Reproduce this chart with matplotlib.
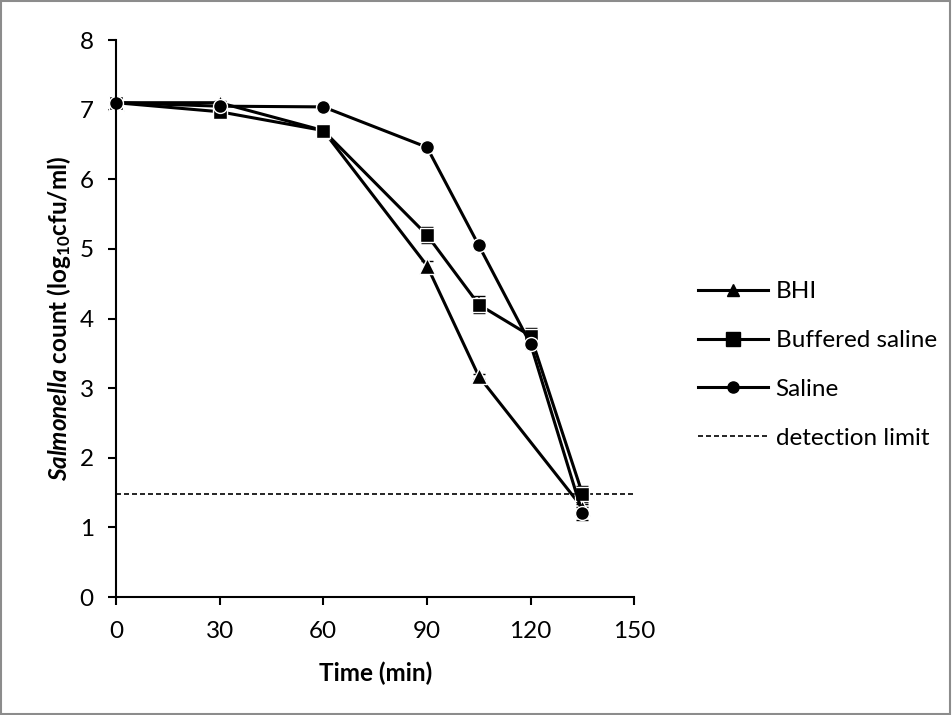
import numpy as np
import matplotlib
matplotlib.use('Agg')
import matplotlib.pyplot as plt
from matplotlib.lines import Line2D
from matplotlib.patches import Rectangle

plt.rcParams['font.family'] = ['Lato', 'DejaVu Sans']
plt.rcParams['mathtext.fontset'] = 'custom'
plt.rcParams['mathtext.rm'] = 'Lato:bold'
plt.rcParams['mathtext.bf'] = 'Lato:bold'
plt.rcParams['mathtext.it'] = 'Lato:bold:italic'

# data
t_bhi = [0, 30, 60, 90, 105, 135]
bhi = [7.10, 7.10, 6.70, 4.76, 3.17, 1.28]
bhi_err = [0.03, 0.03, 0.03, 0.06, 0.04, 0.05]

t_bs = [0, 30, 60, 90, 105, 120, 135]
bs = [7.10, 6.97, 6.70, 5.20, 4.20, 3.75, 1.48]
bs_err = [0.03, 0.04, 0.04, 0.12, 0.12, 0.12, 0.12]

t_sal = [0, 30, 60, 90, 105, 120, 135]
sal = [7.10, 7.05, 7.04, 6.46, 5.05, 3.63, 1.20]
sal_err = [0.03, 0.06, 0.03, 0.03, 0.03, 0.06, 0.10]

detection = 1.48

fs = 17.5
fig = plt.figure(figsize=(9.52, 7.15), dpi=100)
ax = fig.add_axes([0.1218, 0.1650, 0.5445, 0.7790])

kw = dict(color='black', lw=2.2, mec='white', mew=1.0, capsize=4,
          elinewidth=1.2, ecolor='black', clip_on=False)
ax.errorbar(t_bhi, bhi, yerr=bhi_err, marker='^', ms=11, **kw)
ax.errorbar(t_bs, bs, yerr=bs_err, marker='s', ms=10.5, **kw)
ax.errorbar(t_sal, sal, yerr=sal_err, marker='o', ms=10, **kw)
ax.plot([0, 150], [detection, detection], color='black', lw=1.2,
        ls=(0, (3, 1.8)))

ax.set_xlim(0, 150)
ax.set_ylim(0, 8)
ax.set_xticks(np.arange(0, 151, 30))
ax.set_yticks(np.arange(0, 9, 1))
for s in ['top', 'right']:
    ax.spines[s].set_visible(False)
for s in ['left', 'bottom']:
    ax.spines[s].set_linewidth(1.5)
ax.tick_params(direction='out', length=6, width=1.5, labelsize=fs)
ax.tick_params(axis='y', pad=10)
ax.tick_params(axis='x', pad=11)

ax.set_xlabel('Time (min)', fontsize=fs, fontweight='bold', labelpad=14)
ax.set_ylabel(r'$\mathit{Salmonella}$ count (log$_{10}$cfu/ml)',
              fontsize=fs, fontweight='bold', labelpad=5)

handles = [
    Line2D([], [], color='black', lw=2.2, marker='^', ms=9),
    Line2D([], [], color='black', lw=2.2, marker='s', ms=10),
    Line2D([], [], color='black', lw=2.2, marker='o', ms=8),
    Line2D([], [], color='black', lw=1.2, ls=(0, (3, 1.8))),
]
labels = ['BHI', 'Buffered saline', 'Saline', 'detection limit']
fig.legend(handles, labels, loc='center left', bbox_to_anchor=(0.733, 0.4895),
           frameon=False, fontsize=fs, handlelength=2.9, labelspacing=1.15,
           handletextpad=0.3, borderpad=0, borderaxespad=0)

fig.patches.append(Rectangle((0.001, 0.001), 0.997, 0.997, transform=fig.transFigure,
                             fill=False, edgecolor='#8c8c8c', lw=1.5))

plt.savefig('out.png', dpi=100)
